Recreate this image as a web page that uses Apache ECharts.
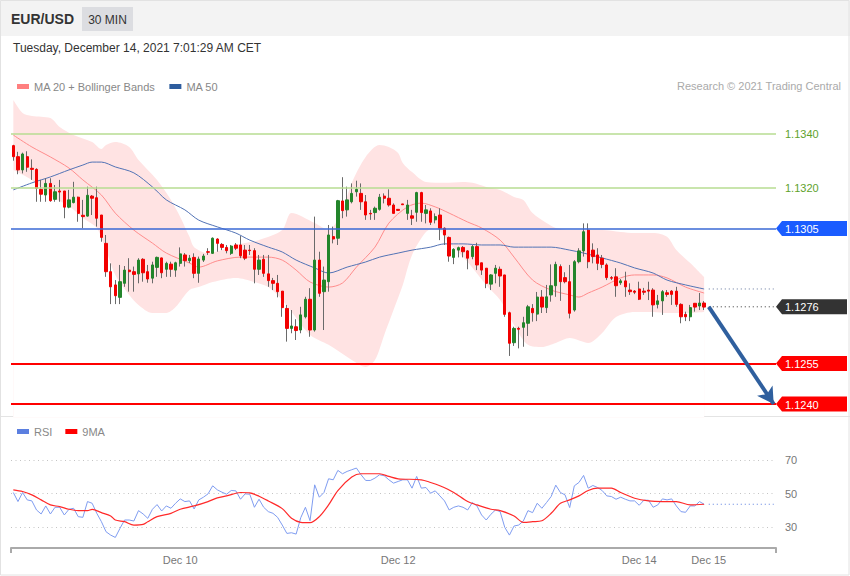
<!DOCTYPE html>
<html><head><meta charset="utf-8">
<script src="https://cdn.jsdelivr.net/npm/echarts@6/dist/echarts.min.js"></script>
<style>html,body{margin:0;padding:0;background:#fff}#c{width:850px;height:576px}</style>
</head><body><div id="c"></div>
<script>
const FONT = 'Liberation Sans, Arial, Helvetica, sans-serif';
const symbolName = 'EUR/USD';
const periodName = '30 MIN';
const dateText = 'Tuesday, December 14, 2021 7:01:29 AM CET';
const creditText = 'Research \u00a9 2021 Trading Central';

const dayLabels = ['Dec 10', 'Dec 12', 'Dec 14', 'Dec 15'];
const dayLabelIndex = [36, 83, 135, 150];
const slotCount = 165;

const opens = [1.13357,1.13316,1.13267,1.13316,1.13273,1.13269,1.13195,1.13174,1.13217,1.13158,
1.13189,1.13189,1.13129,1.13146,1.13166,1.13099,1.13096,1.13170,1.13164,1.13100,
1.12995,1.12890,1.12841,1.12795,1.12847,1.12896,1.12890,1.12882,1.12936,1.12890,
1.12866,1.12906,1.12941,1.12899,1.12918,1.12896,1.12921,1.12952,1.12931,1.12943,
1.12884,1.12933,1.12964,1.12958,1.13011,1.12991,1.12980,1.12958,1.12989,1.12989,
1.12970,1.12970,1.12968,1.12899,1.12936,1.12882,1.12857,1.12847,1.12818,1.12754,
1.12680,1.12686,1.12674,1.12723,1.12788,1.12674,1.12933,1.12816,1.12853,1.13020,
1.13014,1.13152,1.13119,1.13149,1.13186,1.13180,1.13149,1.13106,1.13109,1.13121,
1.13170,1.13162,1.13137,1.13121,1.13141,1.13106,1.13097,1.13110,1.13183,1.13106,
1.13115,1.13082,1.13100,1.13051,1.13017,1.12943,1.12970,1.12980,1.12967,1.12946,
1.12983,1.12923,1.12903,1.12844,1.12884,1.12899,1.12878,1.12738,1.12627,1.12680,
1.12684,1.12699,1.12754,1.12733,1.12796,1.12757,1.12804,1.12838,1.12909,1.12868,
1.12853,1.12748,1.12927,1.12967,1.13044,1.12970,1.12952,1.12940,1.12915,1.12868,
1.12871,1.12849,1.12856,1.12822,1.12818,1.12826,1.12818,1.12822,1.12822,1.12769,
1.12782,1.12812,1.12818,1.12818,1.12769,1.12732,1.12723,1.12773,1.12763,1.12774];

const closes = [1.13316,1.13267,1.13326,1.13277,1.13269,1.13199,1.13177,1.13217,1.13153,1.13186,
1.13185,1.13129,1.13156,1.13166,1.13106,1.13094,1.13173,1.13162,1.13088,1.13017,
1.12890,1.12834,1.12801,1.12853,1.12896,1.12890,1.12880,1.12933,1.12886,1.12863,
1.12915,1.12943,1.12886,1.12921,1.12899,1.12923,1.12956,1.12931,1.12940,1.12884,
1.12937,1.12948,1.12962,1.13014,1.12995,1.12980,1.12968,1.12985,1.12977,1.12949,
1.12940,1.12968,1.12899,1.12933,1.12884,1.12857,1.12847,1.12816,1.12757,1.12680,
1.12689,1.12672,1.12730,1.12788,1.12674,1.12933,1.12810,1.12859,1.13026,1.13011,
1.13153,1.13116,1.13156,1.13180,1.13195,1.13149,1.13100,1.13104,1.13125,1.13166,
1.13162,1.13137,1.13106,1.13117,1.13138,1.13137,1.13088,1.13183,1.13109,1.13119,
1.13073,1.13094,1.13051,1.13026,1.12948,1.12973,1.12979,1.12964,1.12940,1.12983,
1.12915,1.12896,1.12847,1.12878,1.12903,1.12874,1.12732,1.12625,1.12680,1.12677,
1.12701,1.12760,1.12738,1.12796,1.12759,1.12797,1.12838,1.12917,1.12853,1.12853,
1.12736,1.12927,1.12967,1.13038,1.12927,1.12946,1.12921,1.12917,1.12868,1.12866,
1.12838,1.12856,1.12834,1.12816,1.12814,1.12788,1.12814,1.12818,1.12767,1.12782,
1.12816,1.12806,1.12806,1.12769,1.12723,1.12723,1.12757,1.12759,1.12774,1.12759];

const lows = [1.13301,1.13251,1.13254,1.13260,1.13230,1.13149,1.13149,1.13149,1.13149,1.13149,
1.13149,1.13088,1.13125,1.13143,1.13075,1.13051,1.13094,1.13100,1.13057,1.13001,
1.12871,1.12770,1.12770,1.12770,1.12834,1.12816,1.12816,1.12847,1.12853,1.12849,
1.12847,1.12871,1.12866,1.12871,1.12871,1.12871,1.12909,1.12909,1.12922,1.12866,
1.12849,1.12926,1.12952,1.12956,1.12964,1.12970,1.12958,1.12952,1.12970,1.12940,
1.12933,1.12952,1.12847,1.12878,1.12871,1.12834,1.12822,1.12795,1.12723,1.12631,
1.12662,1.12637,1.12662,1.12717,1.12649,1.12668,1.12797,1.12674,1.12816,1.12995,
1.12989,1.13088,1.13094,1.13143,1.13168,1.13119,1.13082,1.13082,1.13082,1.13116,
1.13143,1.13131,1.13106,1.13115,1.13138,1.13082,1.13063,1.13075,1.13075,1.13069,
1.13063,1.13069,1.13007,1.12989,1.12927,1.12918,1.12943,1.12943,1.12899,1.12936,
1.12896,1.12878,1.12829,1.12822,1.12847,1.12834,1.12723,1.12578,1.12615,1.12606,
1.12612,1.12652,1.12705,1.12707,1.12737,1.12737,1.12779,1.12797,1.12782,1.12847,
1.12717,1.12742,1.12921,1.12946,1.12903,1.12921,1.12896,1.12903,1.12859,1.12859,
1.12797,1.12841,1.12797,1.12804,1.12807,1.12785,1.12804,1.12785,1.12723,1.12754,
1.12730,1.12797,1.12767,1.12760,1.12699,1.12707,1.12707,1.12742,1.12748,1.12748];

const highs = [1.13360,1.13334,1.13331,1.13336,1.13306,1.13273,1.13230,1.13236,1.13236,1.13211,
1.13230,1.13189,1.13193,1.13223,1.13168,1.13156,1.13205,1.13174,1.13205,1.13100,
1.13026,1.12921,1.12859,1.12915,1.12911,1.12940,1.12909,1.12940,1.12940,1.12915,
1.12927,1.12946,1.12942,1.12927,1.12927,1.12927,1.12980,1.12959,1.12952,1.12958,
1.12946,1.12956,1.12977,1.13017,1.13014,1.12996,1.12989,1.12989,1.12996,1.13022,
1.12989,1.12989,1.12977,1.12952,1.12952,1.12952,1.12867,1.12878,1.12818,1.12767,
1.12748,1.12714,1.12760,1.12797,1.12829,1.13094,1.12964,1.12909,1.13063,1.13057,
1.13156,1.13240,1.13205,1.13217,1.13227,1.13217,1.13174,1.13119,1.13131,1.13178,
1.13180,1.13195,1.13143,1.13122,1.13141,1.13156,1.13119,1.13186,1.13186,1.13137,
1.13125,1.13106,1.13125,1.13054,1.13020,1.12977,1.12983,1.12985,1.12970,1.12989,
1.12997,1.12923,1.12903,1.12881,1.12915,1.12909,1.12878,1.12742,1.12686,1.12686,
1.12723,1.12767,1.12770,1.12815,1.12822,1.12841,1.12917,1.12927,1.12917,1.12888,
1.12915,1.12933,1.12977,1.13069,1.13069,1.12995,1.12977,1.12952,1.12921,1.12874,
1.12903,1.12863,1.12890,1.12847,1.12822,1.12853,1.12830,1.12853,1.12829,1.12804,
1.12822,1.12822,1.12822,1.12834,1.12773,1.12742,1.12767,1.12773,1.12811,1.12781];

// [candle index, value]
const bbUpper = [[0,1.13526],[2,1.13478],[4,1.13467],[8,1.13459],[10,1.13426],[13,1.13396],[17,1.13370],[19,1.13344],[20,1.13359],[22,1.13370],[25,1.13352],[27,1.13304],[31,1.13230],[34,1.13156],[36,1.13093],[38,1.13019],[39,1.12981],[42,1.12959],[45,1.12970],[48,1.12989],[50,1.12996],[53,1.13007],[58,1.13044],[60,1.13107],[65,1.13070],[68,1.13044],[71,1.13119],[73,1.13219],[76,1.13315],[79,1.13359],[81,1.13352],[83,1.13330],[84,1.13293],[86,1.13259],[89,1.13222],[93,1.13219],[97,1.13222],[99,1.13219],[102,1.13204],[105,1.13193],[108,1.13167],[110,1.13156],[112,1.13107],[115,1.13070],[117,1.13052],[120,1.13044],[123,1.13044],[127,1.13044],[131,1.13037],[134,1.13033],[138,1.13033],[141,1.13019],[143,1.12970],[146,1.12922],[149,1.12870]];
const bbLower = [[0,1.13267],[4,1.13230],[8,1.13170],[12,1.13133],[15,1.13089],[18,1.13052],[20,1.12970],[22,1.12878],[25,1.12804],[27,1.12767],[30,1.12737],[33,1.12737],[35,1.12759],[38,1.12822],[40,1.12833],[43,1.12852],[48,1.12867],[52,1.12852],[55,1.12833],[58,1.12785],[61,1.12719],[64,1.12656],[68,1.12619],[73,1.12563],[76,1.12537],[78,1.12563],[80,1.12656],[82,1.12748],[84,1.12841],[86,1.12952],[89,1.13037],[91,1.13052],[94,1.12996],[98,1.12926],[102,1.12841],[105,1.12785],[108,1.12693],[111,1.12619],[114,1.12611],[117,1.12626],[120,1.12644],[124,1.12626],[127,1.12663],[130,1.12722],[134,1.12741],[138,1.12741],[141,1.12737],[145,1.12737],[149,1.12741]];
const ma20 = [[0,1.13396],[4,1.13352],[8,1.13315],[12,1.13274],[15,1.13230],[19,1.13174],[22,1.13107],[26,1.13044],[30,1.12996],[33,1.12959],[38,1.12922],[40,1.12907],[44,1.12930],[49,1.12944],[55,1.12944],[58,1.12933],[61,1.12896],[64,1.12852],[68,1.12833],[71,1.12848],[74,1.12907],[78,1.12981],[81,1.13070],[85,1.13130],[88,1.13144],[91,1.13130],[94,1.13107],[98,1.13074],[101,1.13052],[105,1.13007],[108,1.12944],[112,1.12859],[116,1.12822],[120,1.12804],[122,1.12796],[124,1.12811],[127,1.12833],[131,1.12867],[134,1.12878],[138,1.12878],[141,1.12867],[145,1.12833],[149,1.12811]];
const ma50 = [[0,1.13193],[4,1.13219],[8,1.13241],[12,1.13267],[15,1.13285],[17,1.13296],[19,1.13296],[22,1.13278],[26,1.13256],[30,1.13204],[33,1.13156],[37,1.13119],[40,1.13081],[44,1.13056],[48,1.13033],[51,1.13007],[55,1.12981],[58,1.12963],[61,1.12933],[65,1.12904],[68,1.12885],[72,1.12907],[76,1.12926],[79,1.12944],[83,1.12959],[86,1.12970],[90,1.12981],[93,1.12993],[97,1.12993],[101,1.12989],[105,1.12989],[108,1.12981],[112,1.12981],[116,1.12981],[120,1.12970],[123,1.12959],[127,1.12941],[131,1.12922],[134,1.12904],[138,1.12885],[141,1.12859],[145,1.12841],[149,1.12826]];

const rsi = [50.6,45.2,50.6,46.2,45.6,40.2,37.8,42.6,37.8,41.8,
41.8,37.2,40.6,41.2,36.2,35.8,45.2,44.2,38.2,33.2,
27.2,25.2,23.8,29.2,34.2,34.2,33.6,39.8,37.8,35.2,
40.6,43.4,39.6,42.6,41.2,44.2,46.8,45.2,45.6,40.8,
46.2,47.8,49.8,54.6,52.2,50.8,49.6,51.8,51.6,46.6,
49.8,49.6,41.8,46.6,41.8,39.2,38.2,35.8,31.2,26.2,
26.6,25.8,35.6,41.8,33.8,55.2,47.8,50.6,58.8,58.2,
63.8,61.8,63.2,64.2,65.2,61.2,57.8,57.8,59.2,61.2,
60.6,58.2,56.2,57.2,
58.2,58.2,53.2,60.2,53.2,53.6,50.2,51.6,48.6,45.6,
40.2,41.8,42.6,41.8,40.2,44.6,42.6,37.2,34.2,37.6,
40.2,39.2,29.8,25.2,30.6,31.2,33.6,39.8,38.6,44.2,
41.2,44.6,48.2,55.0,50.6,49.2,41.6,54.6,56.6,60.8,
53.2,54.8,53.6,51.8,48.6,48.2,46.6,47.8,46.6,45.6,
45.6,43.0,46.0,46.0,41.8,43.2,46.8,46.2,46.8,42.6,
39.2,38.8,42.6,42.6,45.2,43.6];
const rsiMa9 = [[0,52.2],[2,51.2],[4,49.2],[6,46.2],[8,43.2],[10,42.2],[12,40.6],[14,39.8],[16,39.8],[17,40.6],[19,38.6],[21,36.6],[22,34.2],[24,33.2],[26,31.2],[28,31.6],[29,33.2],[31,36.2],[34,38.2],[36,40.6],[39,42.6],[42,45.2],[44,47.4],[46,48.6],[49,50.6],[51,50.4],[53,48.4],[55,45.6],[58,41.0],[60,35.2],[62,32.8],[64,32.6],[66,36.2],[68,43.2],[70,51.8],[73,59.8],[75,61.8],[79,61.8],[81,60.2],[83,58.8],[88,58.2],[90,56.6],[92,54.6],[95,50.6],[98,45.2],[100,43.2],[103,40.6],[105,39.8],[108,36.6],[110,32.8],[112,33.2],[114,33.8],[116,38.2],[118,44.2],[120,46.2],[122,48.6],[124,51.8],[126,53.2],[129,53.2],[131,50.6],[134,47.2],[137,45.6],[140,45.2],[143,45.2],[146,43.2],[149,43.6]];

const resistanceLevels = [1.1340, 1.1320];
const pivotLevel = 1.1305;
const supportLevels = [1.1255, 1.1240];
const lastPrice = 1.1276;
const rsiLevels = [30, 50, 70];
const priceRange = [1.1235, 1.1360];
const rsiRange = [17.5, 80];

// ---------- build ----------
const slots = Array.from({length: slotCount}, (_, i) => String(i));
const candles = opens.map((o, i) => [o, closes[i], lows[i], highs[i]]);
const bodies = opens.map((o, i) => [o, closes[i], Math.min(o, closes[i]), Math.max(o, closes[i])]);
const extStart = opens.length;           // first empty slot after the data
const extEnd = slotCount - 1;
const ma50Last = ma50[ma50.length - 1][1];
const rsiLast = rsi[rsi.length - 1];

const GRID_L = 11, GRID_R = 74;
const chart = echarts.init(document.getElementById('c'), null, {renderer: 'svg'});

const hiddenCat = (gi) => ({type: 'category', gridIndex: gi, data: slots, boundaryGap: true, show: false});

const levelLines = [
  ...resistanceLevels.map(v => ({yAxis: v, lineStyle: {color: '#b7dd92', width: 1.5, type: 'solid'},
     label: {show: true, position: 'end', distance: 9, formatter: v.toFixed(4), color: '#5ea22c', fontSize: 11, fontFamily: FONT}})),
  {yAxis: pivotLevel, lineStyle: {color: '#3a68d4', width: 1.5, type: 'solid'}, label: {show: false}},
  ...supportLevels.map(v => ({yAxis: v, lineStyle: {color: '#ff0000', width: 2, type: 'solid'}, label: {show: false}}))
];

const option = {
  animation: false,
  backgroundColor: '#ffffff',
  textStyle: {fontFamily: FONT},
  grid: [
    {left: GRID_L, right: GRID_R, top: 80, height: 337.5},
    {left: GRID_L, right: GRID_R, top: 443.25, height: 104.75}
  ],
  legend: [
    {left: 12, top: 76, icon: 'rect', itemWidth: 12, itemHeight: 5, itemGap: 14, selectedMode: false,
     textStyle: {color: '#888', fontSize: 11, fontFamily: FONT},
     data: [{name: 'MA 20 + Bollinger Bands', itemStyle: {color: '#ff7f7f'}}, {name: 'MA 50', itemStyle: {color: '#2e5d9e'}}]},
    {left: 12, top: 421, icon: 'rect', itemWidth: 12, itemHeight: 5, itemGap: 13, selectedMode: false,
     textStyle: {color: '#888', fontSize: 11, fontFamily: FONT},
     data: [{name: 'RSI', itemStyle: {color: '#5b7fe0'}}, {name: '9MA', itemStyle: {color: '#ff0000'}}]}
  ],
  xAxis: [
    hiddenCat(0),
    {type: 'category', gridIndex: 1, data: slots, boundaryGap: true,
     axisLine: {show: true, lineStyle: {color: '#aaaaaa', width: 2}},
     axisTick: {show: true, interval: (i) => i === 0, length: 5, lineStyle: {color: '#aaaaaa', width: 2}},
     axisLabel: {interval: (i) => dayLabelIndex.indexOf(i) >= 0,
                 formatter: (v, i) => { const k = dayLabelIndex.indexOf(i); return k >= 0 ? dayLabels[k] : ''; },
                 color: '#777', fontSize: 11, margin: 6, fontFamily: FONT},
     splitLine: {show: false}}
  ],
  yAxis: [
    {type: 'value', gridIndex: 0, min: priceRange[0], max: priceRange[1], show: false, splitLine: {show: false}},
    {type: 'value', gridIndex: 1, min: rsiRange[0], max: rsiRange[1], show: false, splitLine: {show: false}}
  ],
  series: [
    {name: 'bbUpper', type: 'line', xAxisIndex: 0, yAxisIndex: 0, data: bbUpper, smooth: 0.3, symbol: 'none', silent: true, z: 1,
     lineStyle: {opacity: 0, width: 0}, areaStyle: {color: '#ffe3e3', opacity: 1, origin: 'start'}},
    {name: 'bbLower', type: 'line', xAxisIndex: 0, yAxisIndex: 0, data: bbLower, smooth: 0.3, symbol: 'none', silent: true, z: 2,
     lineStyle: {opacity: 0, width: 0}, areaStyle: {color: '#ffffff', opacity: 1, origin: 'start'}},
    {name: 'MA 20 + Bollinger Bands', type: 'line', xAxisIndex: 0, yAxisIndex: 0, data: ma20, smooth: 0.3, symbol: 'none', z: 3,
     lineStyle: {color: '#ff8c8c', width: 1}, itemStyle: {color: '#ff7f7f'}},
    {name: 'MA 50', type: 'line', xAxisIndex: 0, yAxisIndex: 0, data: ma50, smooth: 0.3, symbol: 'none', z: 3,
     lineStyle: {color: '#5273b5', width: 1}, itemStyle: {color: '#2e5d9e'}},
    {name: 'wicks', type: 'candlestick', xAxisIndex: 0, yAxisIndex: 0, data: candles, barWidth: 1, z: 4,
     itemStyle: {color: '#6a6a6a', color0: '#6a6a6a', borderColor: '#6a6a6a', borderColor0: '#6a6a6a', borderWidth: 1}},
    {name: 'bodies', type: 'candlestick', xAxisIndex: 0, yAxisIndex: 0, data: bodies, barWidth: 2.8, z: 5,
     itemStyle: {color: '#23852b', color0: '#f20000', borderColor: '#23852b', borderColor0: '#f20000', borderWidth: 1}},
    {name: 'ma50Ext', type: 'line', xAxisIndex: 0, yAxisIndex: 0, data: [[extStart, ma50Last], [extEnd, ma50Last]], symbol: 'none', z: 4, silent: true,
     lineStyle: {color: '#60739a', width: 1, type: [1, 3]}},
    {name: 'lastExt', type: 'line', xAxisIndex: 0, yAxisIndex: 0, data: [[extStart, lastPrice], [extEnd, lastPrice]], symbol: 'none', z: 4, silent: true,
     lineStyle: {color: '#333333', width: 1, type: [1, 3]},
     markLine: {silent: true, symbol: ['none', 'none'], precision: 5, z: 6, animation: false, data: levelLines}},
    {name: 'arrow', type: 'line', xAxisIndex: 0, yAxisIndex: 0, data: [], symbol: 'none', silent: true,
     markLine: {silent: true, z: 8, precision: 5, animation: false, symbol: ['none', 'arrow'], symbolSize: [14, 16],
       lineStyle: {color: '#2f5f9e', width: 4, type: 'solid'}, label: {show: false},
       data: [[{coord: [extStart, lastPrice]}, {coord: [extEnd, supportLevels[1]]}]]}},
    {name: 'RSI', type: 'line', xAxisIndex: 1, yAxisIndex: 1, data: rsi, symbol: 'none', z: 3,
     lineStyle: {color: '#7f9cf0', width: 1}, itemStyle: {color: '#5b7fe0'},
     markLine: {silent: true, symbol: ['none', 'none'], z: 2, animation: false,
       data: rsiLevels.map(v => ({yAxis: v, lineStyle: {color: '#c4c4c4', width: 1, type: [1, 3.5]},
         label: {show: true, position: 'end', distance: 9, formatter: String(v), color: '#777', fontSize: 11, fontFamily: FONT}}))}},
    {name: '9MA', type: 'line', xAxisIndex: 1, yAxisIndex: 1, data: rsiMa9, smooth: 0.3, symbol: 'none', z: 4,
     lineStyle: {color: '#ff2a2a', width: 1.2}, itemStyle: {color: '#ff0000'}},
    {name: 'rsiExt', type: 'line', xAxisIndex: 1, yAxisIndex: 1, data: [[extStart, rsiLast], [extEnd, rsiLast]], symbol: 'none', z: 4, silent: true,
     lineStyle: {color: '#5b7fe0', width: 1, type: [1, 3]}}
  ]
};
chart.setOption(option);

// decorations and price tags, placed through the library's own scale
const gridRightX = 850 - GRID_R;
const tagDefs = [
  {v: pivotLevel, color: '#1a5cff'},
  {v: lastPrice, color: '#333333'},
  {v: supportLevels[0], color: '#ff0000'},
  {v: supportLevels[1], color: '#ff0000'}
];
const graphics = [
  {type: 'rect', silent: true, z: -10, shape: {x: 0, y: 0, width: 850, height: 36}, style: {fill: '#f3f3f3'}},
  {type: 'text', silent: true, x: 11, y: 19, style: {text: symbolName, font: 'bold 14px ' + FONT, fill: '#333', verticalAlign: 'middle'}},
  {type: 'rect', silent: true, shape: {x: 82, y: 7, width: 51, height: 24}, style: {fill: '#dcdde1'}},
  {type: 'text', silent: true, x: 107.5, y: 19.5, style: {text: periodName, font: '12px ' + FONT, fill: '#333', align: 'center', verticalAlign: 'middle'}},
  {type: 'text', silent: true, x: 13, y: 48, style: {text: dateText, font: '12px ' + FONT, fill: '#333', verticalAlign: 'middle'}},
  {type: 'text', silent: true, x: 841, y: 86, style: {text: creditText, font: '11px ' + FONT, fill: '#aaa', align: 'right', verticalAlign: 'middle'}},
  {type: 'line', silent: true, shape: {x1: 0, y1: 416.5, x2: 850, y2: 416.5}, style: {stroke: '#e4e4e4', lineWidth: 1}},
  {type: 'rect', silent: true, shape: {x: 0.5, y: 0.5, width: 848.5, height: 574.5}, style: {fill: 'none', stroke: '#e2e2e2', lineWidth: 1}}
];
tagDefs.forEach(t => {
  const y = chart.convertToPixel({yAxisIndex: 0}, t.v);
  graphics.push({type: 'polygon', silent: true, z: 20,
    shape: {points: [[gridRightX, y], [gridRightX + 6, y - 7.5], [847, y - 7.5], [847, y + 7.5], [gridRightX + 6, y + 7.5]]},
    style: {fill: t.color}});
  graphics.push({type: 'text', silent: true, z: 21, x: gridRightX + 9, y: y + 0.5,
    style: {text: t.v.toFixed(4), font: '11px ' + FONT, fill: '#ffffff', verticalAlign: 'middle'}});
});
chart.setOption({graphic: graphics});
</script>
</body></html>
